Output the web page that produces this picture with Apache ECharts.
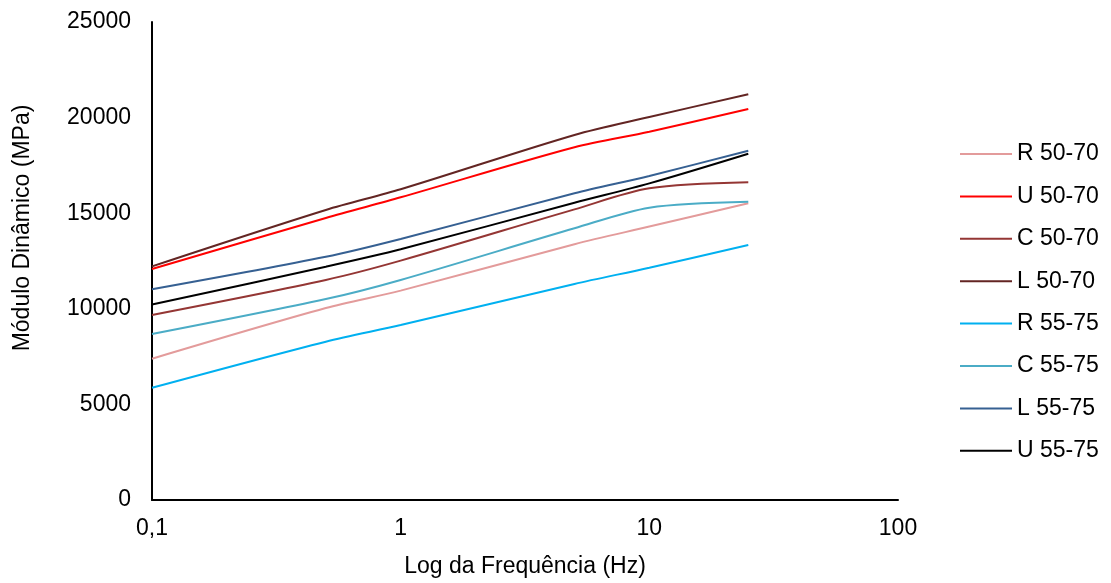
<!DOCTYPE html>
<html>
<head>
<meta charset="utf-8">
<script src="https://cdn.jsdelivr.net/npm/echarts@6/dist/echarts.min.js"></script>
<style>
html,body{margin:0;padding:0;background:#fff;}
#chart{width:1111px;height:583px;}
</style>
</head>
<body>
<div id="chart"></div>
<script>
const frequencies = [0.1, 0.5, 1, 5, 10, 25];
const seriesNames = ['R 50-70', 'U 50-70', 'C 50-70', 'L 50-70', 'R 55-75', 'C 55-75', 'L 55-75', 'U 55-75'];
const r5070 = [7390, 10040, 10950, 13380, 14300, 15520];
const u5070 = [12080, 14750, 15830, 18450, 19260, 20450];
const c5070 = [9680, 11510, 12520, 15200, 16300, 16620];
const l5070 = [12220, 15170, 16250, 19090, 20030, 21220];
const r5575 = [5870, 8280, 9150, 11300, 12150, 13340];
const c5575 = [8680, 10510, 11510, 14210, 15290, 15600];
const l5575 = [11020, 12720, 13650, 16040, 16950, 18270];
const u5575 = [10220, 12200, 13110, 15550, 16560, 18110];
const xTickLabels = ['0,1', '1', '10', '100'];

const valuesList = [r5070, u5070, c5070, l5070, r5575, c5575, l5575, u5575];
const colors = ['#E39B9B', '#FF0000', '#943634', '#632523', '#00B0F0', '#4BACC6', '#366092', '#000000'];

const chart = echarts.init(document.getElementById('chart'));
const font = 'Liberation Sans, Arial, sans-serif';
const fs = 23;
chart.setOption({
  animation: false,
  backgroundColor: '#ffffff',
  grid: {left: 152, right: 213, top: 22, bottom: 83, containLabel: false},
  legend: {
    orient: 'vertical',
    left: 955,
    top: 137,
    icon: 'rect',
    itemWidth: 52,
    itemHeight: 2,
    itemGap: 18.4,
    textStyle: {fontFamily: font, fontSize: fs, color: '#000', lineHeight: 24},
    data: seriesNames
  },
  xAxis: {
    type: 'log',
    logBase: 10,
    min: 0.1,
    max: 100,
    name: 'Log da Frequência (Hz)',
    nameLocation: 'middle',
    nameGap: 55,
    nameTextStyle: {fontFamily: font, fontSize: fs, color: '#000'},
    axisLine: {lineStyle: {color: '#000', width: 2}},
    axisTick: {show: false},
    splitLine: {show: false},
    minorTick: {show: false},
    axisLabel: {
      fontFamily: font, fontSize: fs, color: '#000', margin: 17,
      formatter: function (v) {
        const idx = Math.round(Math.log10(v)) + 1;
        return xTickLabels[idx] !== undefined ? xTickLabels[idx] : '';
      }
    }
  },
  yAxis: {
    type: 'value',
    min: 0,
    max: 25000,
    interval: 5000,
    name: 'Módulo Dinâmico (MPa)',
    nameLocation: 'middle',
    nameGap: 118,
    nameTextStyle: {fontFamily: font, fontSize: fs, color: '#000', padding: [0, 0, 0, 66]},
    axisLine: {show: true, lineStyle: {color: '#000', width: 2}},
    axisTick: {show: false},
    splitLine: {show: false},
    axisLabel: {fontFamily: font, fontSize: fs, color: '#000', margin: 21,
      formatter: function (v) { return String(v); }}
  },
  series: seriesNames.map(function (name, i) {
    return {
      name: name,
      type: 'line',
      smooth: 0.3,
      symbol: 'none',
      color: colors[i],
      lineStyle: {color: colors[i], width: 2},
      data: frequencies.map(function (f, j) { return [f, valuesList[i][j]]; })
    };
  })
});
</script>
</body>
</html>
